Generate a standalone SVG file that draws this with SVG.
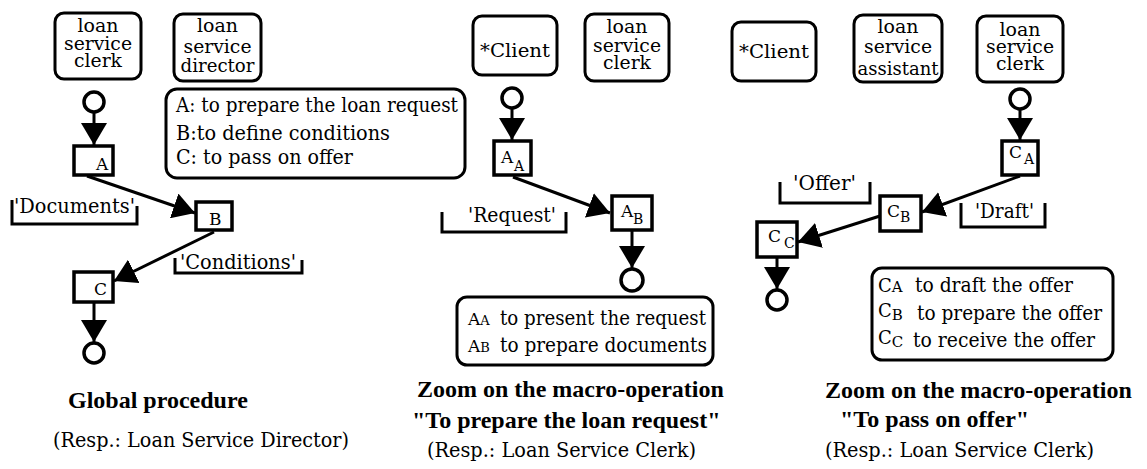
<svg xmlns="http://www.w3.org/2000/svg" width="1147" height="469" viewBox="0 0 1147 469">
  <style>
    text { fill: #000; font-family: "DejaVu Serif", serif; }
    .role { font-size: 19px; text-anchor: middle; }
    .leg { font-size: 20px; }
    .lbl { font-size: 20px; }
    .op { font-size: 17px; }
    .sub { font-size: 14px; }
    .title { font-family: "Liberation Serif", "Times New Roman", serif; font-size: 24px; font-weight: bold; }
    .resp { font-size: 20px; }
    .box { fill: #fff; stroke: #000; stroke-width: 3; }
    .op-box { fill: #fff; stroke: #000; stroke-width: 3.5; }
    .ev { fill: #fff; stroke: #000; stroke-width: 3.5; }
    .link { fill: none; stroke: #000; stroke-width: 3; marker-end: url(#head); }
    .bracket { fill: none; stroke: #000; stroke-width: 3; }
  </style>
  <defs>
    <marker id="head" markerUnits="userSpaceOnUse" markerWidth="24" markerHeight="26" refX="22" refY="13" orient="auto">
      <path d="M0,0 L22,13 L0,26 Z" fill="#000"/>
    </marker>
  </defs>
  <rect width="1147" height="469" fill="#fff"/>

  <!-- ===== Global procedure ===== -->
  <g id="g-clerk">
    <rect class="box" x="55" y="13" width="86" height="66" rx="9"/>
    <text class="role" x="98" y="32" textLength="41" lengthAdjust="spacingAndGlyphs">loan</text>
    <text class="role" x="98" y="50" textLength="68" lengthAdjust="spacingAndGlyphs">service</text>
    <text class="role" x="98" y="67" textLength="48" lengthAdjust="spacingAndGlyphs">clerk</text>
  </g>
  <g id="g-director">
    <rect class="box" x="174" y="14" width="87" height="67" rx="9"/>
    <text class="role" x="217.5" y="32" textLength="41" lengthAdjust="spacingAndGlyphs">loan</text>
    <text class="role" x="217.5" y="53" textLength="68" lengthAdjust="spacingAndGlyphs">service</text>
    <text class="role" x="217.5" y="72" textLength="74" lengthAdjust="spacingAndGlyphs">director</text>
  </g>
  <g id="g-legend">
    <rect class="box" x="166" y="89" width="299" height="89" rx="11"/>
    <text class="leg" x="176" y="112" textLength="282" lengthAdjust="spacingAndGlyphs">A: to prepare the loan request</text>
    <text class="leg" x="176" y="140" textLength="214" lengthAdjust="spacingAndGlyphs">B:to define conditions</text>
    <text class="leg" x="176" y="164" textLength="177" lengthAdjust="spacingAndGlyphs">C: to pass on offer</text>
  </g>
  <g id="g-start"><circle class="ev" cx="94" cy="102" r="10"/></g>
  <g id="g-A">
    <rect class="op-box" x="74" y="146" width="39" height="29"/>
    <text class="op" x="96" y="170">A</text>
  </g>
  <g id="g-B">
    <rect class="op-box" x="196" y="202" width="36" height="28"/>
    <text class="op" x="209" y="225">B</text>
  </g>
  <g id="g-C">
    <rect class="op-box" x="74" y="272" width="39" height="30"/>
    <text class="op" x="94" y="295">C</text>
  </g>
  <g id="g-end"><circle class="ev" cx="94" cy="353" r="10"/></g>
  <g id="g-documents">
    <path class="bracket" d="M12,200 V224 H137 V206"/>
    <text class="lbl" x="14" y="213" textLength="121" lengthAdjust="spacingAndGlyphs">'Documents'</text>
  </g>
  <g id="g-conditions">
    <path class="bracket" d="M175,258 V273 H302 V260"/>
    <text class="lbl" x="180" y="269" textLength="116" lengthAdjust="spacingAndGlyphs">'Conditions'</text>
  </g>

  <!-- ===== Macro-operation: to prepare the loan request ===== -->
  <g id="m-client">
    <rect class="box" x="473" y="16" width="84" height="59" rx="9"/>
    <text class="role" x="515" y="57" font-size="21" textLength="70" lengthAdjust="spacingAndGlyphs">*Client</text>
  </g>
  <g id="m-clerk">
    <rect class="box" x="585" y="14" width="84" height="67" rx="9"/>
    <text class="role" x="627" y="33" textLength="41" lengthAdjust="spacingAndGlyphs">loan</text>
    <text class="role" x="627" y="52" textLength="68" lengthAdjust="spacingAndGlyphs">service</text>
    <text class="role" x="627" y="69" textLength="48" lengthAdjust="spacingAndGlyphs">clerk</text>
  </g>
  <g id="m-start"><circle class="ev" cx="512" cy="98" r="10"/></g>
  <g id="m-AA">
    <rect class="op-box" x="494" y="141" width="37" height="34"/>
    <text class="op" x="501" y="163">A<tspan class="sub" x="514" y="171">A</tspan></text>
  </g>
  <g id="m-AB">
    <rect class="op-box" x="612" y="196" width="40" height="34"/>
    <text class="op" x="621" y="217">A<tspan class="sub" x="633" y="224">B</tspan></text>
  </g>
  <g id="m-end"><circle class="ev" cx="632" cy="280" r="11"/></g>
  <g id="m-request">
    <path class="bracket" d="M442,212 V232 H566 V212"/>
    <text class="lbl" x="468" y="222" textLength="88" lengthAdjust="spacingAndGlyphs">'Request'</text>
  </g>
  <g id="m-legend">
    <rect class="box" x="457" y="297" width="256" height="68" rx="10"/>
    <text class="leg" x="468" y="325"><tspan font-size="17">A</tspan><tspan font-size="13">A</tspan></text>
    <text class="leg" x="500" y="325" textLength="206" lengthAdjust="spacingAndGlyphs">to present the request</text>
    <text class="leg" x="468" y="352"><tspan font-size="17">A</tspan><tspan font-size="13">B</tspan></text>
    <text class="leg" x="500" y="352" textLength="207" lengthAdjust="spacingAndGlyphs">to prepare documents</text>
  </g>

  <!-- ===== Macro-operation: to pass on offer ===== -->
  <g id="p-client">
    <rect class="box" x="732" y="22" width="84" height="59" rx="9"/>
    <text class="role" x="774" y="58" font-size="21" textLength="70" lengthAdjust="spacingAndGlyphs">*Client</text>
  </g>
  <g id="p-assistant">
    <rect class="box" x="854" y="15" width="88" height="67" rx="9"/>
    <text class="role" x="898" y="33" textLength="41" lengthAdjust="spacingAndGlyphs">loan</text>
    <text class="role" x="898" y="53" textLength="68" lengthAdjust="spacingAndGlyphs">service</text>
    <text class="role" x="898" y="75" textLength="81" lengthAdjust="spacingAndGlyphs">assistant</text>
  </g>
  <g id="p-clerk">
    <rect class="box" x="977" y="16" width="86" height="66" rx="9"/>
    <text class="role" x="1020" y="36" textLength="41" lengthAdjust="spacingAndGlyphs">loan</text>
    <text class="role" x="1020" y="53" textLength="68" lengthAdjust="spacingAndGlyphs">service</text>
    <text class="role" x="1020" y="70" textLength="48" lengthAdjust="spacingAndGlyphs">clerk</text>
  </g>
  <g id="p-start"><circle class="ev" cx="1020" cy="99" r="10"/></g>
  <g id="p-CA">
    <rect class="op-box" x="1002" y="141" width="36" height="34"/>
    <text class="op" x="1009" y="158">C<tspan class="sub" x="1024" y="164">A</tspan></text>
  </g>
  <g id="p-CB">
    <rect class="op-box" x="880" y="196" width="41" height="35"/>
    <text class="op" x="887" y="217">C<tspan class="sub" x="900" y="222">B</tspan></text>
  </g>
  <g id="p-CC">
    <rect class="op-box" x="757" y="222" width="40" height="35"/>
    <text class="op" x="768" y="242">C<tspan class="sub" x="784" y="248">C</tspan></text>
  </g>
  <g id="p-end"><circle class="ev" cx="777" cy="300" r="10"/></g>
  <g id="p-offer">
    <path class="bracket" d="M780,182 V203 H870 V182"/>
    <text class="lbl" x="793" y="190" textLength="63" lengthAdjust="spacingAndGlyphs">'Offer'</text>
  </g>
  <g id="p-draft">
    <path class="bracket" d="M961,203 V227 H1045 V203"/>
    <text class="lbl" x="975" y="218" textLength="59" lengthAdjust="spacingAndGlyphs">'Draft'</text>
  </g>
  <g id="p-legend">
    <rect class="box" x="872" y="268" width="241" height="92" rx="10"/>
    <text class="leg" x="878" y="292"><tspan font-size="18">C</tspan><tspan font-size="15">A</tspan></text>
    <text class="leg" x="915" y="292" textLength="158" lengthAdjust="spacingAndGlyphs">to draft the offer</text>
    <text class="leg" x="878" y="317"><tspan font-size="18">C</tspan><tspan font-size="15" dy="3">B</tspan></text>
    <text class="leg" x="917" y="320" textLength="185" lengthAdjust="spacingAndGlyphs">to prepare the offer</text>
    <text class="leg" x="878" y="344"><tspan font-size="18">C</tspan><tspan font-size="15" dy="3">C</tspan></text>
    <text class="leg" x="913" y="347" textLength="182" lengthAdjust="spacingAndGlyphs">to receive the offer</text>
  </g>

  <!-- ===== Connectors ===== -->
  <g id="connectors">
    <line class="link" x1="94" y1="113" x2="94" y2="145"/>
    <line class="link" x1="87" y1="176" x2="195" y2="213"/>
    <line class="link" x1="214" y1="232" x2="114" y2="281"/>
    <line class="link" x1="94" y1="303" x2="94" y2="342"/>

    <line class="link" x1="512" y1="109" x2="512" y2="140"/>
    <line class="link" x1="513" y1="177" x2="610" y2="213"/>
    <line class="link" x1="632" y1="231" x2="632" y2="268"/>

    <line class="link" x1="1020" y1="110" x2="1020" y2="140"/>
    <line class="link" x1="1020" y1="176" x2="922" y2="212"/>
    <line class="link" x1="880" y1="216" x2="798" y2="242"/>
    <line class="link" x1="777" y1="258" x2="777" y2="289"/>
  </g>

  <!-- ===== Captions ===== -->
  <g id="captions">
    <text class="title" x="68" y="408">Global procedure</text>
    <text class="resp" x="53" y="447" textLength="296" lengthAdjust="spacingAndGlyphs">(Resp.: Loan Service Director)</text>
    <text class="title" x="417" y="397">Zoom on the macro-operation</text>
    <text class="title" x="412" y="428">"To prepare the loan request"</text>
    <text class="resp" x="427" y="457" textLength="269" lengthAdjust="spacingAndGlyphs">(Resp.: Loan Service Clerk)</text>
    <text class="title" x="825" y="398">Zoom on the macro-operation</text>
    <text class="title" x="840" y="427">"To pass on offer"</text>
    <text class="resp" x="825" y="457" textLength="269" lengthAdjust="spacingAndGlyphs">(Resp.: Loan Service Clerk)</text>
  </g>
</svg>
